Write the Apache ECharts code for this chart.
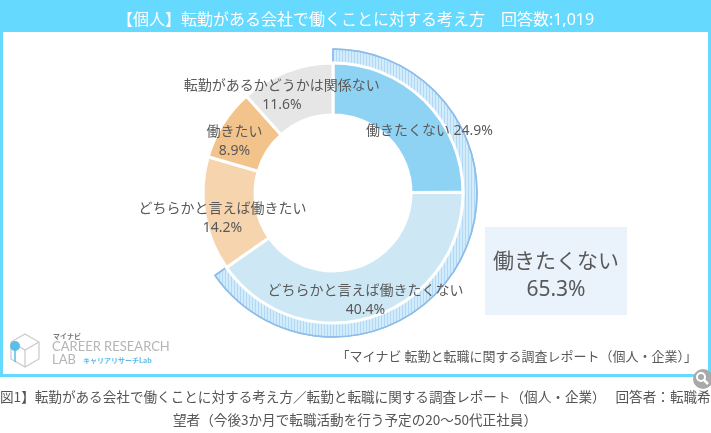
<!DOCTYPE html>
<html lang="ja">
<head>
    <meta charset="UTF-8">
    <meta name="viewport" content="width=device-width, initial-scale=1.0">
    <title>転勤がある会社で働くことに対する考え方</title>
    <script src="https://cdn.jsdelivr.net/npm/echarts@6/dist/echarts.min.js"></script>
    <style>
        html, body {
            margin: 0;
            padding: 0;
            background: #ffffff;
        }
        #chart {
            width: 711px;
            height: 433px;
        }
    </style>
</head>
<body>
    <div id="chart"></div>
    <script>
        // data
        const categories = ['働きたくない', 'どちらかと言えば働きたくない', 'どちらかと言えば働きたい', '働きたい', '転勤があるかどうかは関係ない'];
        const values = [24.9, 40.4, 14.2, 8.9, 11.6];
        const ringValues = [65.3, 34.7]; // 働きたくない 合計 / その他
        const summaryName = '働きたくない';
        const summaryValue = '65.3%';
        const titleText = '【個人】転勤がある会社で働くことに対する考え方　回答数:1,019';
        const sourceText = '「マイナビ 転勤と転職に関する調査レポート（個人・企業）」';
        const captionLine1 = '図1】転勤がある会社で働くことに対する考え方／転勤と転職に関する調査レポート（個人・企業）　 回答者：転職希';
        const captionLine2 = '望者（今後3か月で転職活動を行う予定の20〜50代正社員）';

        // styles
        const jpFont = '"Noto Sans CJK JP", sans-serif';
        const font = '"Noto Sans", "Noto Sans CJK JP", sans-serif';
        const sliceColors = ['#8ed3f3', '#cde8f4', '#f6d4ae', '#f2c38b', '#e6e6e6'];
        const labelOffsets = [[21, 14], [0, 6], [-5, 8], [-8, 6], [-13, 2]];
        const frameBlue = '#66d9ff';
        const textGray = '#595959';

        const sliceData = categories.map((name, i) => ({
            name: name,
            value: values[i],
            itemStyle: { color: sliceColors[i] },
            label: {
                offset: labelOffsets[i],
                formatter: i === 0 ? '{b} {c}%' : '{b}\n{c}%'
            }
        }));

        let option = {
            backgroundColor: '#ffffff',
            animation: false,
            title: {
                text: titleText,
                left: 'center',
                top: 7,
                textStyle: { color: '#ffffff', fontSize: 16, fontWeight: 'normal', fontFamily: font }
            },
            graphic: [
                // frame and header
                { type: 'rect', z: -10, shape: { x: 1.5, y: 1.5, width: 708, height: 374 },
                  style: { fill: '#ffffff', stroke: frameBlue, lineWidth: 3 } },
                { type: 'rect', z: -9, shape: { x: 0, y: 0, width: 711, height: 32 },
                  style: { fill: frameBlue } },
                // summary box
                { type: 'rect', z: 5, shape: { x: 485, y: 227, width: 142, height: 88 },
                  style: { fill: '#eaf3fb' } },
                { type: 'text', z: 6, x: 556, y: 262,
                  style: { text: summaryName, fill: textGray, font: '21px ' + font, align: 'center', verticalAlign: 'middle' } },
                { type: 'text', z: 6, x: 556, y: 290,
                  style: { text: summaryValue, fill: textGray, font: '21px ' + font, align: 'center', verticalAlign: 'middle' } },
                // source
                { type: 'text', z: 6, x: 697, y: 356,
                  style: { text: sourceText, fill: textGray, font: '13px ' + jpFont, align: 'right', verticalAlign: 'middle' } },
                // logo
                { type: 'polygon', z: 6, shape: { points: [[25, 334], [39, 342], [39, 359], [25, 367], [11, 359], [11, 342]] },
                  style: { fill: 'none', stroke: '#c9c9c9', lineWidth: 1.2 } },
                { type: 'polyline', z: 6, shape: { points: [[11, 342], [25, 350], [39, 342]] },
                  style: { fill: 'none', stroke: '#c9c9c9', lineWidth: 1.2 } },
                { type: 'line', z: 6, shape: { x1: 25, y1: 350, x2: 25, y2: 367 },
                  style: { stroke: '#c9c9c9', lineWidth: 1.2 } },
                { type: 'line', z: 6, shape: { x1: 15, y1: 347, x2: 15, y2: 362 },
                  style: { stroke: '#5bbde8', lineWidth: 1.5 } },
                { type: 'circle', z: 7, shape: { cx: 15, cy: 346, r: 5 },
                  style: { fill: '#5bbde8' } },
                { type: 'text', z: 6, x: 53, y: 336,
                  style: { text: 'マイナビ', fill: '#777777', font: 'bold 7px ' + jpFont, verticalAlign: 'middle' } },
                { type: 'text', z: 6, x: 52, y: 347,
                  style: { text: 'CAREER RESEARCH', fill: '#b5b5b5', font: '13px Lato, "Open Sans", sans-serif', verticalAlign: 'middle' } },
                { type: 'text', z: 6, x: 52, y: 360,
                  style: { text: 'LAB', fill: '#b5b5b5', font: '13px Lato, "Open Sans", sans-serif', verticalAlign: 'middle' } },
                { type: 'text', z: 6, x: 83, y: 360,
                  style: { text: 'キャリアリサーチLab', fill: '#5bbde8', font: 'bold 7px ' + jpFont, verticalAlign: 'middle' } },
                // magnifier icon
                { type: 'circle', z: 8, shape: { cx: 703, cy: 379, r: 10 },
                  style: { fill: '#a9a9a9' } },
                { type: 'circle', z: 9, shape: { cx: 701, cy: 377, r: 4 },
                  style: { fill: 'none', stroke: '#ffffff', lineWidth: 2 } },
                { type: 'line', z: 9, shape: { x1: 704, y1: 380, x2: 708, y2: 384 },
                  style: { stroke: '#ffffff', lineWidth: 2.5 } },
                // caption
                { type: 'text', z: 6, x: 0, y: 397,
                  style: { text: captionLine1, fill: '#555555', font: '13.6px ' + jpFont, verticalAlign: 'middle' } },
                { type: 'text', z: 6, x: 355, y: 420,
                  style: { text: captionLine2, fill: '#555555', font: '13.6px ' + jpFont, align: 'center', verticalAlign: 'middle' } }
            ],
            series: [
                {
                    name: 'highlight',
                    type: 'pie',
                    z: 1,
                    silent: true,
                    center: [333, 193],
                    radius: [130, 144],
                    startAngle: 90,
                    clockwise: true,
                    label: { show: false },
                    labelLine: { show: false },
                    data: [
                        {
                            value: ringValues[0],
                            itemStyle: {
                                color: '#d3ecfb',
                                borderColor: '#8fbde9',
                                borderWidth: 1.5,
                                decal: {
                                    symbol: 'rect',
                                    symbolSize: 1,
                                    dashArrayX: [1, 2],
                                    dashArrayY: [4, 0],
                                    rotation: 0,
                                    color: 'rgba(150, 200, 240, 0.55)'
                                }
                            }
                        },
                        { value: ringValues[1], itemStyle: { color: 'rgba(0,0,0,0)', borderWidth: 0 } }
                    ]
                },
                {
                    name: '考え方',
                    type: 'pie',
                    z: 2,
                    center: [333, 193],
                    radius: [78, 130],
                    startAngle: 90,
                    clockwise: true,
                    itemStyle: { borderColor: '#ffffff', borderWidth: 3 },
                    label: {
                        show: true,
                        position: 'inside',
                        color: textGray,
                        fontSize: 14,
                        lineHeight: 19,
                        fontFamily: font
                    },
                    labelLine: { show: false },
                    data: sliceData
                }
            ]
        };

        let chart = echarts.init(document.getElementById('chart'));
        chart.setOption(option);

        window.addEventListener('resize', function () {
            chart.resize();
        });
    </script>
</body>
</html>
